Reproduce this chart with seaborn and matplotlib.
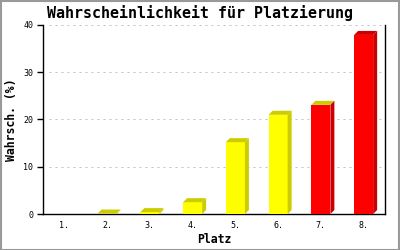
import numpy as np
import pandas as pd
import matplotlib
matplotlib.use("Agg")
import matplotlib.pyplot as plt
from matplotlib.patches import Polygon, Rectangle
import seaborn as sns

# ---- data ----
places = ["1.", "2.", "3.", "4.", "5.", "6.", "7.", "8."]
values = [0.0, 0.1, 0.4, 2.5, 15.2, 21.0, 23.1, 37.9]
front_colors = ["#ffff00", "#ffff00", "#ffff00", "#ffff00", "#ffff00", "#ffff00", "#ff0000", "#ff0000"]
side_colors = ["#cccc00", "#cccc00", "#cccc00", "#cccc00", "#cccc00", "#cccc00", "#cc0000", "#cc0000"]
top_colors = ["#cccc00", "#cccc00", "#cccc00", "#cccc00", "#cccc00", "#cccc00", "#cccc00", "#cc0000"]
yticks = [0, 10, 20, 30, 40]
title = "Wahrscheinlichkeit für Platzierung"
xlabel = "Platz"
ylabel = "Wahrsch. (%)"

sns.set_theme(style="white")
plt.rcParams["font.family"] = ["DejaVu Sans Mono", "DejaVu Sans"]
plt.rcParams["text.color"] = "black"
plt.rcParams["axes.labelcolor"] = "black"
plt.rcParams["xtick.color"] = "black"
plt.rcParams["ytick.color"] = "black"

W, H, DPI = 400, 250, 100
fig = plt.figure(figsize=(W / DPI, H / DPI), dpi=DPI)
fig.patch.set_facecolor("white")
ax = fig.add_axes([43 / W, 1 - 214 / H, (385 - 43) / W, (214 - 25) / H])

df = pd.DataFrame({"place": places, "value": values})
sns.barplot(data=df, x="place", y="value", hue="place", palette=front_colors,
            legend=False, width=0.445, ax=ax, saturation=1, edgecolor="none",
            linewidth=0, zorder=3)

ax.set_xlim(-0.5, len(places) - 0.5)
ax.set_ylim(0, 40)
ax.set_yticks(yticks)
ax.set_yticklabels([str(t) for t in yticks])

# grid
for t in yticks[1:]:
    ax.axhline(t, xmin=6 / 342, color="#c0c0c0", lw=0.72, ls=(0, (2, 4)), zorder=1)

ax.spines["top"].set_visible(False)
for s in ["left", "right", "bottom"]:
    ax.spines[s].set_color("black")
    ax.spines[s].set_linewidth(1.0)

ax.tick_params(axis="y", length=4, width=1, color="black", labelcolor="black", pad=3, labelsize=6)
ax.tick_params(axis="x", length=0, pad=5, labelcolor="black", labelsize=6)
ax.yaxis.set_ticks_position("left")
ax.set_xlabel(xlabel, fontsize=8.3, fontweight="bold", labelpad=2.5, color="black")
ax.set_ylabel(ylabel, fontsize=8.3, fontweight="bold", color="black")
ax.yaxis.label.set_va("center")
ax.yaxis.set_label_coords(-31 / 342, 0.5)

# 3D faces derived from the seaborn bars
dx, dy = 4, 4
bars = [p for p in ax.patches]
for bar, sc, tc in zip(bars, side_colors, top_colors):
    h = bar.get_height()
    if h <= 0:
        continue
    x0 = bar.get_x()
    x1 = x0 + bar.get_width()
    (px0, py0) = ax.transData.transform((x0, 0))
    (px1, py1) = ax.transData.transform((x1, h))
    top = Polygon([(px0, py1), (px1, py1), (px1 + dx, py1 + dy), (px0 + dx, py1 + dy)],
                  closed=True, transform=None, facecolor=tc, edgecolor="none", zorder=4)
    side = Polygon([(px1, py0), (px1, py1), (px1 + dx, py1 + dy), (px1 + dx, py0 + dy)],
                   closed=True, transform=None, facecolor=sc, edgecolor="none", zorder=4)
    fig.add_artist(top)
    fig.add_artist(side)

fig.text(0.5, 1 - 13 / H, title, ha="center", va="center", fontsize=10.8,
         fontweight="bold", color="black")

fig.add_artist(Rectangle((0.5 / W, 0.5 / H), 1 - 1.5 / W, 1 - 1.5 / H, transform=fig.transFigure,
                         fill=False, edgecolor="#999999", linewidth=1.5))

fig.savefig("out.png", dpi=DPI)
